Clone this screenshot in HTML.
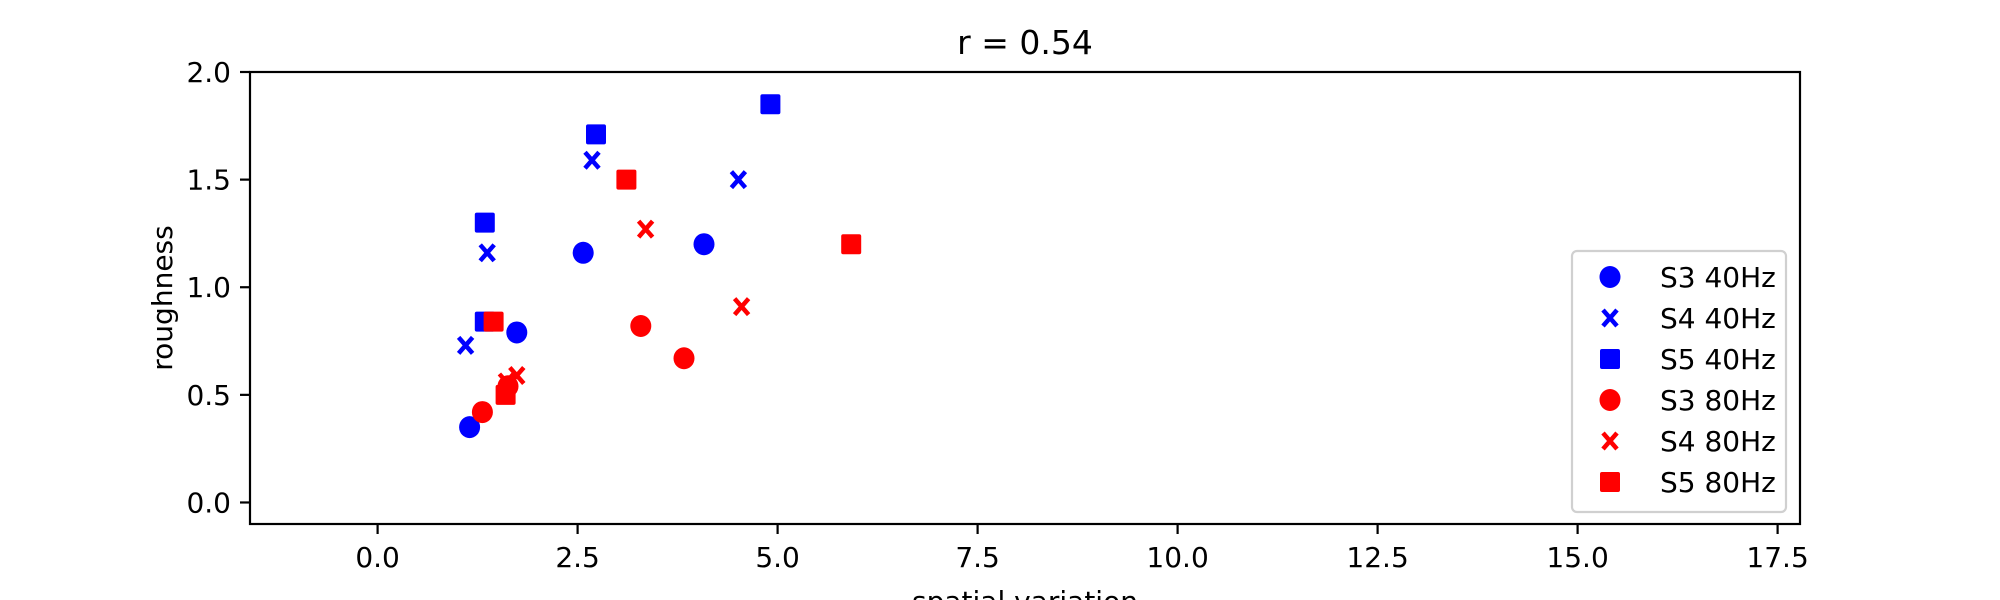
<!DOCTYPE html>
<html><head><meta charset="utf-8"><style>
body{margin:0;background:#fff;}
svg{display:block;font-family:"DejaVu Sans","Liberation Sans",sans-serif;}
</style></head><body>
<svg id="chart" width="2000" height="600" viewBox="0 0 2000 600">
<rect width="2000" height="600" fill="#fff"/>
<text x="1025" y="54" font-size="33" text-anchor="middle">r = 0.54</text>
<g id="marks"></g>
<g id="axes"></g>
<g id="legend"></g>
</svg>
<script>
const seriesNames = ["S3 40Hz","S4 40Hz","S5 40Hz","S3 80Hz","S4 80Hz","S5 80Hz"];
const seriesColors = ["#0000ff","#0000ff","#0000ff","#ff0000","#ff0000","#ff0000"];
const seriesShapes = ["circle","x","square","circle","x","square"];
const s3_40_x = [1.15,1.74,2.57,4.08];
const s3_40_y = [0.35,0.79,1.16,1.20];
const s4_40_x = [1.10,1.37,2.68,4.51];
const s4_40_y = [0.73,1.16,1.59,1.50];
const s5_40_x = [1.34,1.34,2.73,4.91];
const s5_40_y = [1.30,0.84,1.71,1.85];
const s3_80_x = [1.31,3.29,3.83,1.63];
const s3_80_y = [0.42,0.82,0.67,0.54];
const s4_80_x = [3.35,4.55,1.74,1.61];
const s4_80_y = [1.27,0.91,0.59,0.56];
const s5_80_x = [3.11,5.92,1.45,1.60];
const s5_80_y = [1.50,1.20,0.84,0.50];
const xTicks = [0,2.5,5,7.5,10,12.5,15,17.5];
const yTicks = [0,0.5,1,1.5,2];
const xTickLabels = ["0.0","2.5","5.0","7.5","10.0","12.5","15.0","17.5"];
const yTickLabels = ["0.0","0.5","1.0","1.5","2.0"];

const NS="http://www.w3.org/2000/svg";
const L=250,R=1800,T=72,B=524;
const xMin=-1.595,xMax=17.78,yMin=-0.1,yMax=2.0;
const xs=v=>L+(v-xMin)/(xMax-xMin)*(R-L);
const ys=v=>B-(v-yMin)/(yMax-yMin)*(B-T);
function mk(tag,attrs,parent){const e=document.createElementNS(NS,tag);for(const k in attrs)e.setAttribute(k,attrs[k]);parent.appendChild(e);return e;}
function marker(shape,cx,cy,color,parent){
  let e;
  if(shape==="circle"){e=mk("ellipse",{cx:cx,cy:cy,rx:10.5,ry:11,fill:color},parent);}
  else if(shape==="square"){e=mk("rect",{x:cx-10,y:cy-10,width:20,height:20,rx:2,fill:color},parent);}
  else{e=mk("path",{d:`M${cx-7},${cy-8}L${cx+7},${cy+8}M${cx+7},${cy-8}L${cx-7},${cy+8}`,stroke:color,"stroke-width":4.5,fill:"none"},parent);}
  return e;
}
const xsData=[s3_40_x,s4_40_x,s5_40_x,s3_80_x,s4_80_x,s5_80_x];
const ysData=[s3_40_y,s4_40_y,s5_40_y,s3_80_y,s4_80_y,s5_80_y];
const marks=document.getElementById("marks");
for(let s=0;s<6;s++){
  for(let i=0;i<xsData[s].length;i++){
    const e=marker(seriesShapes[s],xs(xsData[s][i]),ys(ysData[s][i]),seriesColors[s],marks);
    
    
  }
}
const axes=document.getElementById("axes");
const frame=mk("rect",{x:L,y:T,width:R-L,height:B-T,fill:"none",stroke:"#000","stroke-width":2.2},axes);


xTicks.forEach((v,i)=>{
  const x=xs(v);
  mk("line",{x1:x,y1:B,x2:x,y2:B+10,stroke:"#000","stroke-width":2.2},axes);
  const t=mk("text",{x:x,y:567,"font-size":28,"text-anchor":"middle"},axes);
  t.textContent=xTickLabels[i];
  
  
});
yTicks.forEach((v,i)=>{
  const y=ys(v);
  mk("line",{x1:L,y1:y,x2:L-10,y2:y,stroke:"#000","stroke-width":2.2},axes);
  const t=mk("text",{x:231,y:y+10,"font-size":28,"text-anchor":"end"},axes);
  t.textContent=yTickLabels[i];
  
  
});
const yl=mk("text",{x:0,y:0,"font-size":28,"text-anchor":"middle",transform:"translate(172,298) rotate(-90)"},axes);
yl.textContent="roughness";


const xl=mk("text",{x:1025,y:611,"font-size":28,"text-anchor":"middle"},axes);
xl.textContent="spatial variation";


const lg=document.getElementById("legend");


mk("rect",{x:1572,y:251,width:214,height:261,rx:5,fill:"#fff","fill-opacity":0.8,stroke:"#d0d0d0","stroke-width":2.2},lg);
seriesNames.forEach((n,i)=>{
  const y=277+i*41;
  const g=mk("g",{},lg);
  
  
  marker(seriesShapes[i],1610,y,seriesColors[i],g);
  const t=mk("text",{x:1660,y:y+10,"font-size":28},g);
  t.textContent=n;
});
</script>
</body></html>
